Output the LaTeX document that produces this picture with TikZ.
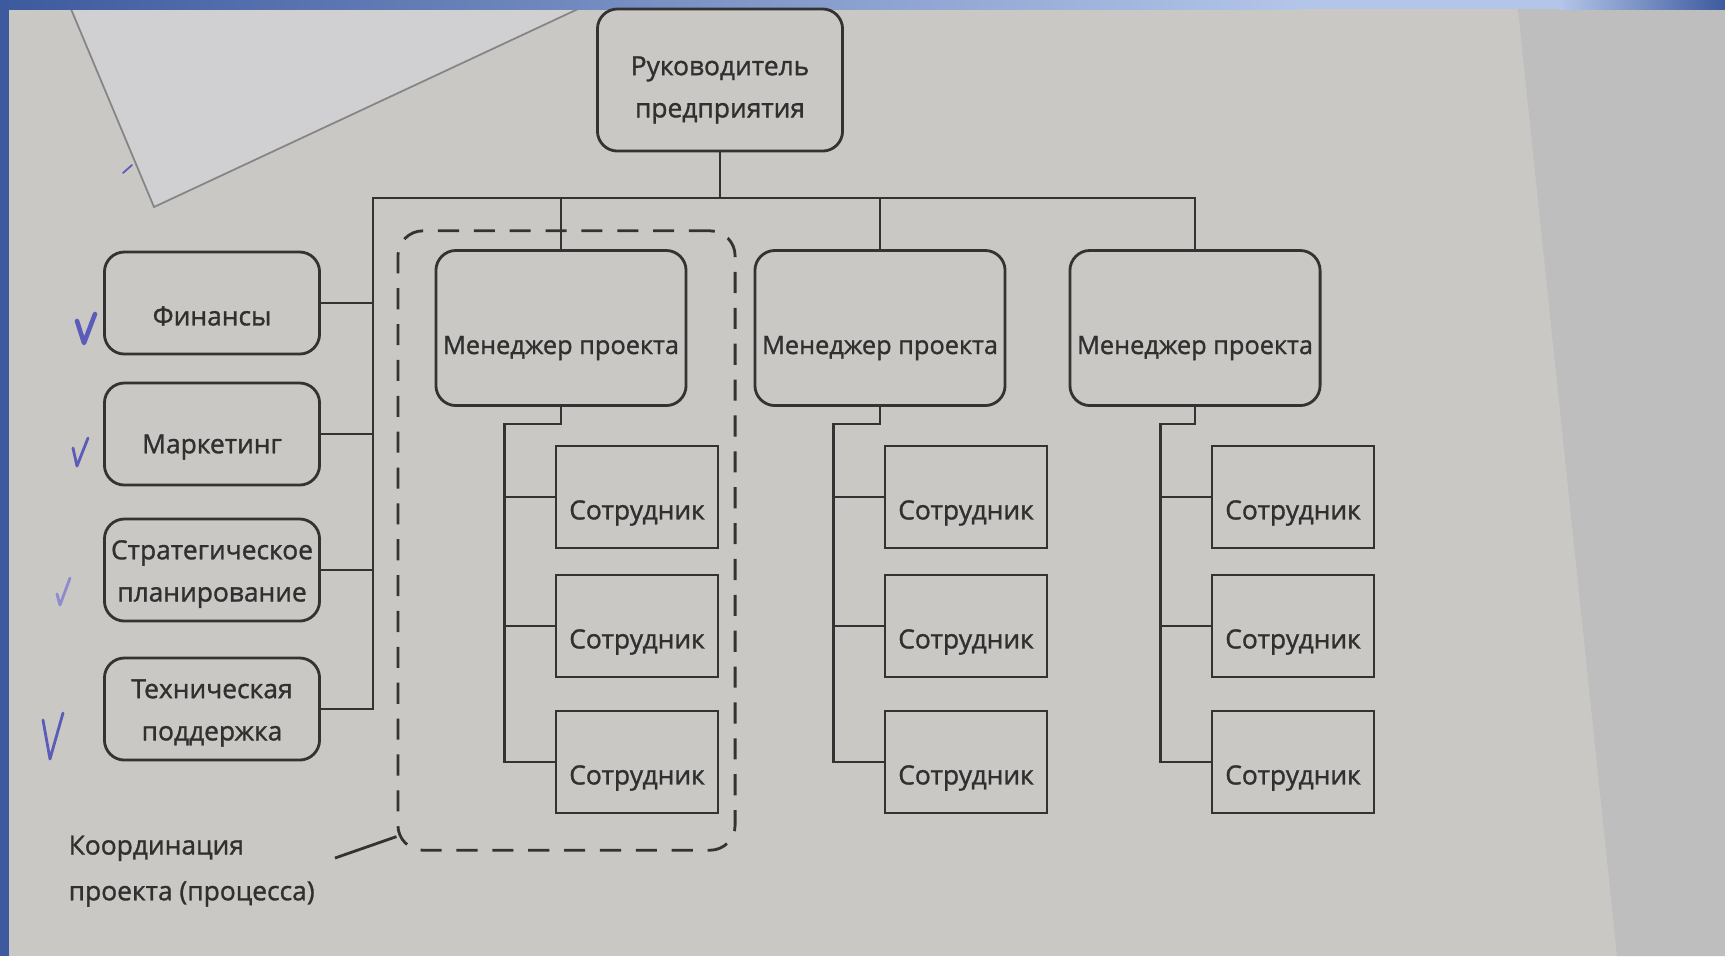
\documentclass[tikz,border=0pt]{standalone}
\usepackage{fontspec}
\setmainfont{Open Sans}
\newfontfamily\boxfont{Open Sans}[FakeBold=1.2]
\usetikzlibrary{calc}

\definecolor{page}{HTML}{C9C8C4}
\definecolor{pageright}{HTML}{BFBEBE}
\definecolor{sheet}{HTML}{D0D0D3}
\definecolor{framedark}{HTML}{3D5A9E}
\definecolor{framelight}{HTML}{B3C5E8}
\definecolor{linecol}{HTML}{333333}
\definecolor{textcol}{HTML}{303030}
\definecolor{ink}{HTML}{5B5BBA}

\tikzset{
    box/.style={draw=linecol, line width=0.8pt, rounded corners=0.2cm, inner sep=0pt},
    staff/.style={box, rounded corners=0pt, minimum width=1.62cm, minimum height=1.02cm},
    txt/.style={text=textcol, align=center, inner sep=0pt, font=\boxfont\fontsize{7.5}{12}\selectfont},
    link/.style={draw=linecol, line width=0.8pt},
    dashbox/.style={draw=linecol, line width=0.8pt, rounded corners=0.25cm,
      dash pattern=on 6pt off 4.2pt, inner sep=0pt},
    tick/.style={draw=ink, line width=0.8pt, line cap=round, line join=round}
}

\begin{document}
\begin{tikzpicture}[x=0.01cm, y=-0.01cm]
    % page and photo frame
    \fill[page] (0,0) rectangle (1725,956);
    \fill[pageright] (1517,0) -- (1725,0) -- (1725,956) -- (1617,956) -- cycle;
    \fill[sheet] (71,9) -- (578,9) -- (154,207) -- cycle;
    \draw[linecol!60, line width=0.5pt] (578,9) -- (154,207) -- (71,9);
    \shade[left color=framedark, right color=framelight] (0,0) rectangle (1300,9);
    \fill[framelight] (1300,0) rectangle (1560,9);
    \shade[left color=framelight, right color=framedark] (1560,0) rectangle (1725,9);
    \fill[framedark] (0,0) rectangle (9,956);

    \node[box, minimum width=2.45cm, minimum height=1.42cm] (boss) at (720,80) {};
    \node[txt] (boss-t) at ($(boss)+(0,10)$) {Руководитель\\предприятия};

    % functional departments
    \foreach \y/\dy/\name/\lbl in {303/13/fin/Финансы, 434/13/mkt/Маркетинг,
        570/4/str/{Стратегическое\\планирование}, 709/4/tech/{Техническая\\поддержка}}{
      \node[box, minimum width=2.15cm, minimum height=1.02cm] (\name) at (212,\y) {};
      \node[txt] (\name-t) at ($(\name)+(0,\dy)$) {\lbl};
    }

    % project managers and their staff
    \foreach \i/\x/\dx in {1/561/76, 2/880/86, 3/1195/98}{
      \node[box, minimum width=2.5cm, minimum height=1.55cm] (m\i) at (\x,328) {};
      \node[txt, font=\boxfont\fontsize{7.2}{12}\selectfont] (m\i-t) at ($(m\i)+(0,20)$) {Менеджер проекта};
      \foreach \j/\y in {1/497, 2/626, 3/762}{
        \node[staff] (s\i\j) at ($(\x,\y)+(\dx,0)$) {};
        \node[txt] (s\i\j-t) at ($(s\i\j)+(0,16)$) {Сотрудник};
      }
      \coordinate (sp\i) at ($(s\i1.west)+(-50,0)$);
      \coordinate (j\i) at ($(m\i.south)+(0,17)$);
      \draw[link] (m\i.south) -- (j\i) -- (j\i -| sp\i) |- (s\i3.west);
      \draw[link] (s\i1.west) -- (s\i1.west -| sp\i);
      \draw[link] (s\i2.west) -- (s\i2.west -| sp\i);
    }

    % main bus
    \coordinate (busL) at (373,198);
    \draw[link] (boss.south) -- (boss.south |- busL);
    \draw[link] (tech.east) -| (busL) -| (m3.north);
    \foreach \name in {fin, mkt, str}{
      \draw[link] (\name.east) -- (\name.east -| busL);
    }
    \draw[link] (m2.north) -- (m2.north |- busL);

    % project coordination
    \node[dashbox, minimum width=3.37cm, minimum height=6.19cm] (coord) at (566.5,540.5) {};
    \draw[link] (m1.north) -- (m1.north |- busL);
    \node[txt, anchor=north west, align=left, font=\boxfont\fontsize{7.5}{13}\selectfont]
      (note) at (68,835) {Координация\\проекта (процесса)};
    \coordinate (lead) at (335,858);
    \draw[link] (lead) -- ($(coord.south west)+(0,-15)$);

    % ticks in pen
    \draw[tick, line width=1.3pt] (77,321) -- (84,343) -- (95,314);
    \draw[tick] (73,448) -- (77,466) -- (88,438);
    \draw[tick, ink!70] (57,594) -- (60,605) -- (70,578);
    \draw[tick] (43,720) -- (50,759) -- (63,713);
    \draw[tick, line width=0.5pt] (123,173) -- (132,165);
\end{tikzpicture}
\end{document}
